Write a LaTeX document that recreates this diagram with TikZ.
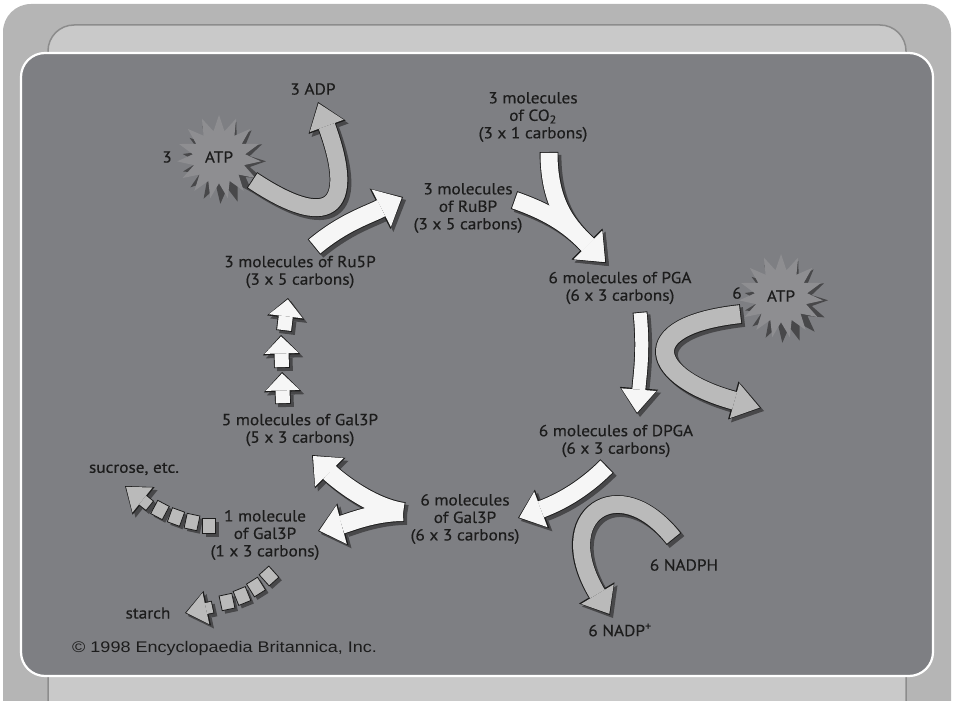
\documentclass[tikz,border=0pt]{standalone}
\usepackage{fontspec}
\setmainfont{PT Sans}[FakeStretch=1.08, FakeBold=0.4]
\newfontfamily\creditfont{Liberation Sans}[FakeStretch=1.17]
\usetikzlibrary{arrows.meta,shapes.geometric}
\definecolor{panelgrey}{RGB}{126,127,131}
\definecolor{framegrey}{RGB}{181,181,181}
\definecolor{tabgrey}{RGB}{201,201,201}
\definecolor{tabline}{RGB}{140,140,140}
\definecolor{arrowwhite}{RGB}{246,246,246}
\definecolor{arrowgrey}{RGB}{186,186,186}
\definecolor{arrowshade}{RGB}{72,72,74}
\definecolor{burstgrey}{RGB}{142,142,145}
\definecolor{inkgrey}{RGB}{28,28,28}

\pgfdeclarelayer{back}
\pgfdeclarelayer{shade}
\pgfdeclarelayer{rim}
\pgfsetlayers{back,shade,rim,main}

\tikzset{
  lbl/.style={text=inkgrey, align=center, inner sep=0pt, font=\fontsize{16}{17.5}\selectfont},
  burst/.style={star, star points=15, star point ratio=1.6, minimum size=84pt, inner sep=0pt},
  linkbox/.style={draw=inkgrey, fill=arrowgrey, line width=0.8pt},
}

% fat arrow: #1 fill, #2 shaft, #3 head width, #4 head length, #5 path
\newcommand{\fatarrow}[5]{%
  \pgfmathsetmacro\rimshaft{#2+1.8}%
  \pgfmathsetmacro\rimwidth{#3+3.4}%
  \pgfmathsetmacro\rimlength{#4+2.8}%
  \begin{pgfonlayer}{shade}
    \draw[arrowshade, line width=\rimshaft pt, -{Triangle[width=\rimwidth pt, length=\rimlength pt, line width=0pt]},
      transform canvas={shift={(3pt,-3pt)}}] #5;
  \end{pgfonlayer}
  \begin{pgfonlayer}{rim}
    \draw[inkgrey, line width=\rimshaft pt, -{Triangle[width=\rimwidth pt, length=\rimlength pt, line width=0pt]}] #5;
  \end{pgfonlayer}
  \draw[#1, line width=#2pt, shorten <=0.9pt, shorten >=1.4pt, -{Triangle[width=#3pt, length=#4pt, line width=0pt]}] #5;
}

\begin{document}
\begin{tikzpicture}[x=1pt, y=-1pt]
\useasboundingbox (0,0) rectangle (954,701);

\begin{pgfonlayer}{back}
  % frame and panel
  \fill[framegrey, rounded corners=28] (3,4) rectangle (951,760);
  \draw[tabline, fill=tabgrey, line width=1.5pt, rounded corners=26] (48,25) rectangle (906,760);
  \draw[white, line width=2.2pt, fill=panelgrey, rounded corners=24] (21,53) rectangle (933,676);
  % ATP bursts
  \node[burst, fill=arrowshade, rotate=7] (atpLshade) at (224,162) {};
  \node[burst, lbl, fill=burstgrey] (atpL) at (219,157) {ATP};
  \node[burst, fill=arrowshade, rotate=7] (atpRshade) at (786,301) {};
  \node[burst, lbl, fill=burstgrey] (atpR) at (781,296) {ATP};
\end{pgfonlayer}

% arrow ends
\coordinate (atpOutL) at (252,180);
\coordinate (adpIn) at (318,102);
\coordinate (ru5pOut) at (314,247);
\coordinate (rubpIn) at (403,197);
\coordinate (rubpOut) at (514,200);
\coordinate (co2Out) at (549,152);
\coordinate (pgaIn) at (606,263);
\coordinate (pgaOut) at (640,312);
\coordinate (dpgaIn) at (637,414);
\coordinate (atpOutR) at (741,314);
\coordinate (adpRIn) at (761,408);
\coordinate (dpgaOut) at (607,466);
\coordinate (gal6In) at (518,518);
\coordinate (nadphOut) at (674,539);
\coordinate (nadpIn) at (610,615);
\coordinate (gal6Out) at (404,512);
\coordinate (gal5In) at (312,455);
\coordinate (gal1In) at (318,531);
\coordinate (sucroseIn) at (125,486);
\coordinate (starchIn) at (185,613);

% cycle arrows
\fatarrow{arrowgrey}{17}{36}{24}{(atpOutL) .. controls +(75,50) and +(40,110) .. (adpIn)}
\fatarrow{arrowwhite}{18}{42}{23}{(ru5pOut) .. controls +(30,-25) and +(-35,18) .. (rubpIn)}
\fatarrow{arrowwhite}{17}{40}{24}{(rubpOut) .. controls +(40,14) and +(-35,-35) .. (pgaIn)}
\fatarrow{arrowwhite}{17}{40}{24}{(co2Out) .. controls +(0,55) and +(-35,-35) .. (pgaIn)}
\fatarrow{arrowwhite}{13}{35}{23}{(pgaOut) .. controls +(4,40) and +(3,-40) .. (dpgaIn)}
\fatarrow{arrowgrey}{18}{36}{26}{(atpOutR) .. controls +(-110,12) and +(-110,-30) .. (adpRIn)}
\fatarrow{arrowwhite}{17}{38}{23}{(dpgaOut) .. controls +(-25,25) and +(40,-15) .. (gal6In)}
\fatarrow{arrowgrey}{17}{38}{23}{(nadphOut) .. controls +(-55,-70) and +(-60,-100) .. (nadpIn)}
\fatarrow{arrowwhite}{18}{40}{23}{(gal6Out) .. controls +(-35,-5) and +(22,22) .. (gal5In)}
\fatarrow{arrowwhite}{18}{40}{23}{(gal6Out) .. controls +(-30,0) and +(30,-8) .. (gal1In)}

% Gal3P to Ru5P steps
\foreach \xa/\ya/\xb/\yb in {284/331/288/298, 282/368/281/335, 283/404/282/372}{
  \fatarrow{arrowwhite}{14}{34}{17}{(\xa,\ya) -- (\xb,\yb)}
}

% chains to sucrose and starch
\foreach \x/\y/\a in {209/526/0, 192/522/-12, 176/517/-20, 160/510/-28,
                      269/576/42, 256/587/32, 242/596/22, 227/602/12}{
  \begin{pgfonlayer}{shade}
    \fill[arrowshade, shift={(\x+3,\y+3)}, rotate=\a] (-6.5,-7.5) rectangle (6.5,7.5);
  \end{pgfonlayer}
  \draw[linkbox, shift={(\x,\y)}, rotate=\a] (-6.5,-7.5) rectangle (6.5,7.5);
}
\fatarrow{arrowgrey}{11}{32}{21}{(150,506) -- (sucroseIn)}
\fatarrow{arrowgrey}{11}{32}{20}{(213,607) -- (starchIn)}

% labels
\node[lbl] (adp) at (313,89) {3 ADP};
\node[lbl] (threeL) at (167,157) {3};
\node[lbl] (co2) at (533,117) {3 molecules\\of CO\textsubscript{2}\\(3 x 1 carbons)};
\node[lbl] (rubp) at (468,208) {3 molecules\\of RuBP\\(3 x 5 carbons)};
\node[lbl] (ru5p) at (300,272) {3 molecules of Ru5P\\(3 x 5 carbons)};
\node[lbl] (pga) at (620,288) {6 molecules of PGA\\(6 x 3 carbons)};
\node[lbl] (sixR) at (737,293) {6};
\node[lbl] (dpga) at (616,441) {6 molecules of DPGA\\(6 x 3 carbons)};
\node[lbl] (gal5) at (300,430) {5 molecules of Gal3P\\(5 x 3 carbons)};
\node[lbl] (gal6) at (465,519) {6 molecules\\of Gal3P\\(6 x 3 carbons)};
\node[lbl] (gal1) at (265,535) {1 molecule\\of Gal3P\\(1 x 3 carbons)};
\node[lbl] (sucrose) at (134,469) {sucrose, etc.};
\node[lbl] (starch) at (148,613) {starch};
\node[lbl] (nadph) at (684,565) {6 NADPH};
\node[lbl] (nadp) at (620,630) {6 NADP\textsuperscript{+}};
\node[lbl, anchor=west, font=\creditfont\fontsize{15.4}{17}\selectfont] (credit) at (72,649) {© 1998 Encyclopaedia Britannica, Inc.};
\end{tikzpicture}
\end{document}
